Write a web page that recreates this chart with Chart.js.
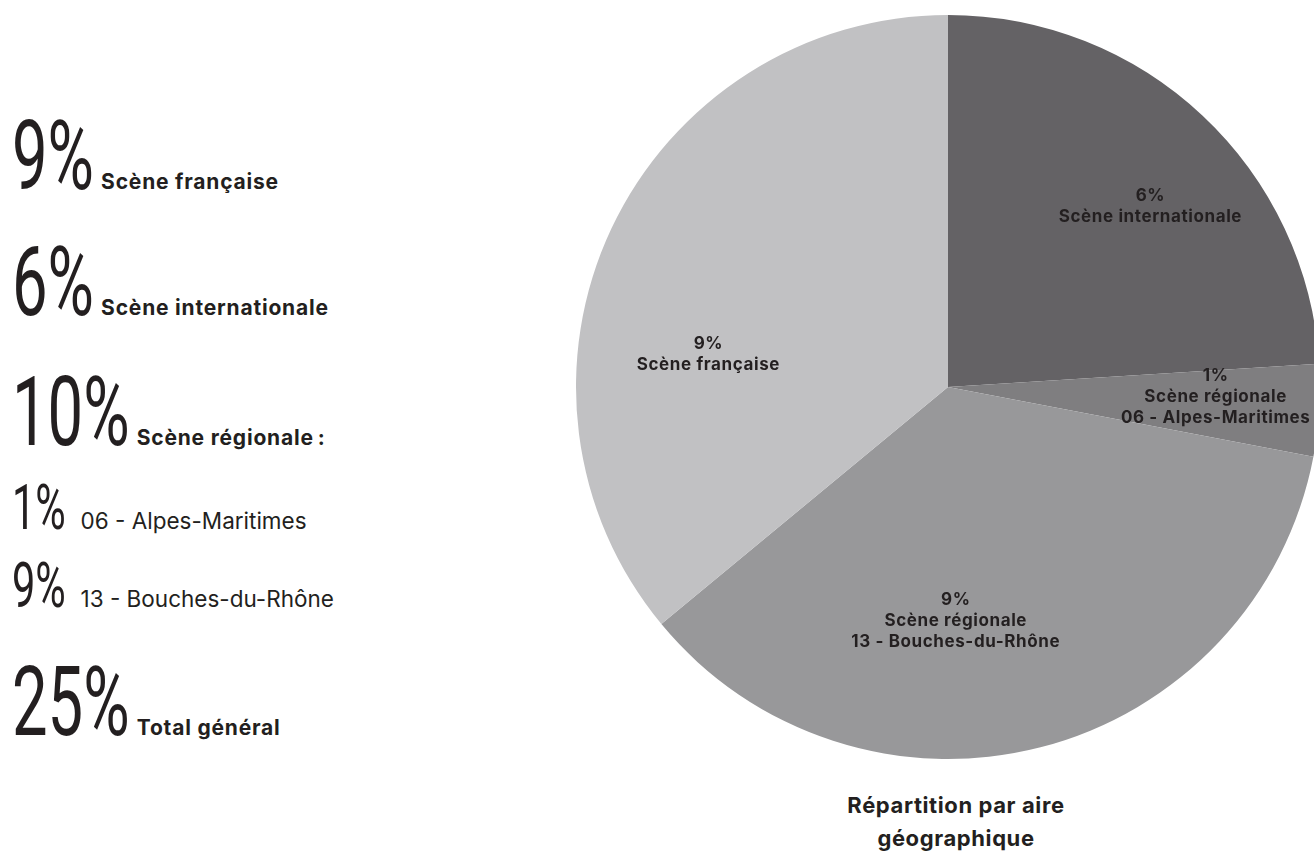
<!DOCTYPE html>
<html lang="fr">
<head>
    <meta charset="UTF-8">
    <title>Répartition par aire géographique</title>
    <style>
        html, body {
            margin: 0;
            padding: 0;
            width: 1314px;
            height: 852px;
            overflow: hidden;
            background: #ffffff;
            color: #231f20;
            font-family: 'Inter', 'Noto Sans', sans-serif;
        }
        .row {
            position: absolute;
            left: 12px;
            white-space: nowrap;
            display: flex;
            align-items: baseline;
        }
        .big {
            display: inline-block;
            font-family: 'Roboto', sans-serif;
            font-weight: 400;
            font-size: 96px;
            line-height: 1;
            transform: scaleX(0.66);
            transform-origin: left bottom;
        }
        .small-num {
            font-size: 63px;
        }
        .lbl {
            font-weight: 700;
            font-size: 21px;
            letter-spacing: 0.8px;
        }
        .sub {
            font-weight: 400;
            font-size: 22.5px;
        }
        #pieBox {
            position: absolute;
            left: 568px;
            top: 7px;
            width: 760px;
            height: 760px;
        }
        #title {
            position: absolute;
            left: 756px;
            width: 400px;
            top: 789px;
            text-align: center;
            font-weight: 700;
            font-size: 22px;
            letter-spacing: 0.6px;
            line-height: 33px;
        }
    </style>
</head>
<body>
    <div id="summary"></div>

    <div id="pieBox"><canvas id="pieChart"></canvas></div>
    <div id="title">Répartition par aire<br>géographique</div>

    <script src="https://cdn.jsdelivr.net/npm/chart.js"></script>
    <script>
        // slices, clockwise from 12 o'clock
        const sliceLabels = [
            ['Scène internationale'],
            ['Scène régionale', '06 - Alpes-Maritimes'],
            ['Scène régionale', '13 - Bouches-du-Rhône'],
            ['Scène française']
        ];
        const sliceValues = [6, 1, 9, 9];
        const sliceColors = ['#646265', '#7f7e80', '#98989a', '#c1c1c3'];

        // left-hand summary
        const summaryValues = [9, 6, 10, 1, 9, 25];
        const summaryTexts = [
            'Scène française',
            'Scène internationale',
            'Scène régionale\u202F:',
            '06 - Alpes-Maritimes',
            '13 - Bouches-du-Rhône',
            'Total général'
        ];

        // layout of the left list (baseline y, small or not)
        const summaryLayout = [
            { base: 191, small: false },
            { base: 317, small: false },
            { base: 447, small: false },
            { base: 530, small: true },
            { base: 608, small: true },
            { base: 737, small: false }
        ];

        const summary = document.getElementById('summary');
        summaryValues.forEach((v, i) => {
            const lay = summaryLayout[i];
            const row = document.createElement('div');
            row.className = 'row';
            const num = document.createElement('span');
            num.className = 'big' + (lay.small ? ' small-num' : '');
            num.textContent = v + '%';
            const txt = document.createElement('span');
            txt.className = lay.small ? 'sub' : 'lbl';
            txt.textContent = summaryTexts[i];
            row.appendChild(num);
            row.appendChild(txt);
            summary.appendChild(row);
            const fs = parseFloat(getComputedStyle(num).fontSize);
            row.style.top = (lay.base - fs * 0.86) + 'px';
            // shrink the gap left by the scaled number
            const w = num.offsetWidth;
            if (lay.small) {
                txt.style.marginLeft = (69 - w) + 'px';   // sub lines start at x=81
            } else {
                txt.style.marginLeft = (-w * 0.34 + 7) + 'px';
            }
        });

        const total = sliceValues.reduce((a, b) => a + b, 0);

        // where each slice's label sits: angle shift (deg) and fraction of the radius
        const labelPlacement = [
            { shift: 5, frac: 0.73 },
            { shift: -1.5, frac: 0.72 },
            { shift: 12.5, frac: 0.63 },
            { shift: -17.5, frac: 0.65 }
        ];

        const sliceLabelPlugin = {
            id: 'sliceLabels',
            afterDatasetsDraw(chart) {
                const ctx = chart.ctx;
                const meta = chart.getDatasetMeta(0);
                ctx.save();
                ctx.font = '700 17px Inter, "Noto Sans", sans-serif';
                ctx.letterSpacing = '0.6px';
                ctx.fillStyle = '#231f20';
                ctx.textAlign = 'center';
                ctx.textBaseline = 'middle';
                meta.data.forEach((arc, i) => {
                    const p = arc.getProps(['x', 'y', 'startAngle', 'endAngle', 'outerRadius'], true);
                    const mid = (p.startAngle + p.endAngle) / 2 + labelPlacement[i].shift * Math.PI / 180;
                    const r = p.outerRadius * labelPlacement[i].frac;
                    const cx = p.x + Math.cos(mid) * r;
                    const cy = p.y + Math.sin(mid) * r;
                    const pct = Math.round(sliceValues[i] / total * 25) + '%';
                    const lines = [pct].concat(sliceLabels[i]);
                    const lh = 21;
                    const y0 = cy - (lines.length - 1) * lh / 2;
                    lines.forEach((t, k) => ctx.fillText(t, cx, y0 + k * lh));
                });
                ctx.restore();
            }
        };

        new Chart(document.getElementById('pieChart'), {
            type: 'pie',
            data: {
                labels: sliceLabels.map(l => l.join(' ')),
                datasets: [{
                    data: sliceValues,
                    backgroundColor: sliceColors,
                    borderWidth: 0
                }]
            },
            options: {
                responsive: true,
                maintainAspectRatio: false,
                animation: false,
                layout: { padding: 8 },
                plugins: {
                    legend: { display: false },
                    tooltip: { enabled: false }
                }
            },
            plugins: [sliceLabelPlugin]
        });
    </script>
</body>
</html>
